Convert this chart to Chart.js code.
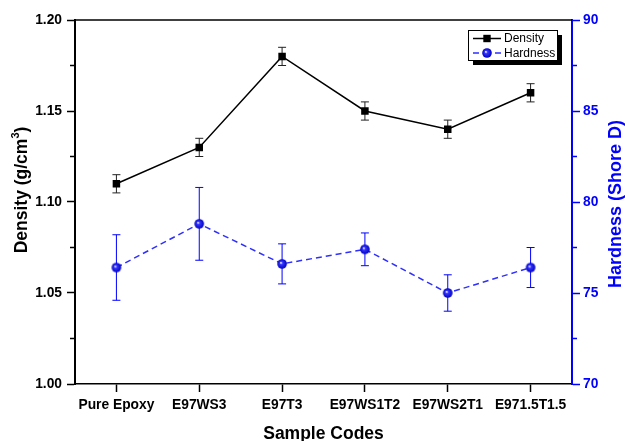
<!DOCTYPE html>
<html><head><meta charset="utf-8">
<script src="https://cdn.jsdelivr.net/npm/chart.js@4.4.1/dist/chart.umd.min.js"></script>
<style>html,body{margin:0;padding:0;background:#fff}#wrap{width:625px;height:441px}</style>
</head><body><div id="wrap"><canvas id="c" width="625" height="441"></canvas></div>
<script>
const categories = ['Pure Epoxy','E97WS3','E97T3','E97WS1T2','E97WS2T1','E971.5T1.5'];
const density = [1.11, 1.13, 1.18, 1.15, 1.14, 1.16];
const densityErr = [0.005, 0.005, 0.005, 0.005, 0.005, 0.005];
const hardness = [76.4, 78.8, 76.6, 77.4, 75.0, 76.4];
const hardnessErr = [1.8, 2.0, 1.1, 0.9, 1.0, 1.1];
const densityTicks = [1.00, 1.05, 1.10, 1.15, 1.20];
const densityMinor = [1.025, 1.075, 1.125, 1.175];
const hardnessTicks = [70, 75, 80, 85, 90];
const hardnessMinor = [72.5, 77.5, 82.5, 87.5];

const BLUE = '#0000ff';
const LINEBLUE = '#2f2fff';
const FONT = '"Liberation Sans", Arial, sans-serif';
const TICKSIZE = 13.8;

function ball(r) {
  const s = Math.ceil(r * 2) + 2;
  const c = document.createElement('canvas');
  c.width = s; c.height = s;
  const g = c.getContext('2d');
  const cx = s / 2, cy = s / 2;
  const gr = g.createRadialGradient(cx - r * 0.25, cy - r * 0.25, 0.3, cx, cy, r);
  gr.addColorStop(0, '#f4f4ff');
  gr.addColorStop(0.28, '#3434ff');
  gr.addColorStop(1, '#0000c0');
  g.fillStyle = gr;
  g.beginPath(); g.arc(cx, cy, r, 0, Math.PI * 2); g.fill();
  return c;
}
const ballImg = ball(4.8);

const errorBars = {
  id: 'errorBars',
  beforeDatasetsDraw(chart) {
    const ctx = chart.ctx;
    const xs = chart.scales.x;
    const sets = [
      {vals: density, errs: densityErr, scale: chart.scales.y, color: '#222', cap: 4},
      {vals: hardness, errs: hardnessErr, scale: chart.scales.y1, color: BLUE, cap: 4}
    ];
    ctx.save();
    sets.forEach(s => {
      ctx.strokeStyle = s.color;
      ctx.lineWidth = 1;
      s.vals.forEach((v, i) => {
        const x = xs.getPixelForValue(i);
        const yt = s.scale.getPixelForValue(v + s.errs[i]);
        const yb = s.scale.getPixelForValue(v - s.errs[i]);
        ctx.beginPath();
        ctx.moveTo(x, yt); ctx.lineTo(x, yb);
        ctx.moveTo(x - s.cap, yt); ctx.lineTo(x + s.cap, yt);
        ctx.moveTo(x - s.cap, yb); ctx.lineTo(x + s.cap, yb);
        ctx.stroke();
      });
    });
    ctx.restore();
  }
};

const decor = {
  id: 'decor',
  afterDraw(chart) {
    const ctx = chart.ctx;
    const a = chart.chartArea;
    const y = chart.scales.y, y1 = chart.scales.y1;
    ctx.save();
    // top frame line
    ctx.strokeStyle = '#000'; ctx.lineWidth = 1.5;
    ctx.beginPath(); ctx.moveTo(a.left, a.top); ctx.lineTo(a.right, a.top); ctx.stroke();
    // minor ticks
    ctx.lineWidth = 1.5;
    densityMinor.forEach(v => {
      const p = y.getPixelForValue(v);
      ctx.beginPath(); ctx.moveTo(a.left - 5, p); ctx.lineTo(a.left, p); ctx.stroke();
    });
    ctx.strokeStyle = BLUE;
    hardnessMinor.forEach(v => {
      const p = y1.getPixelForValue(v);
      ctx.beginPath(); ctx.moveTo(a.right, p); ctx.lineTo(a.right + 5, p); ctx.stroke();
    });

    // axis titles
    ctx.fillStyle = '#000';
    ctx.font = 'bold 17.5px ' + FONT;
    ctx.textBaseline = 'alphabetic';
    const main = 'Density (g/cm';
    const wMain = ctx.measureText(main).width;
    ctx.font = 'bold 11px ' + FONT;
    const wSup = ctx.measureText('3').width;
    ctx.font = 'bold 17.5px ' + FONT;
    const wClose = ctx.measureText(')').width;
    const total = wMain + wSup + wClose;
    ctx.save();
    ctx.translate(27, 190);
    ctx.rotate(-Math.PI / 2);
    ctx.textAlign = 'left';
    let sx = -total / 2;
    ctx.fillText(main, sx, 0);
    sx += wMain;
    ctx.font = 'bold 11px ' + FONT;
    ctx.fillText('3', sx, -8);
    sx += wSup;
    ctx.font = 'bold 17.5px ' + FONT;
    ctx.fillText(')', sx, 0);
    ctx.restore();
    // right title
    ctx.save();
    ctx.fillStyle = BLUE;
    ctx.font = 'bold 18px ' + FONT;
    ctx.translate(621, 204);
    ctx.rotate(-Math.PI / 2);
    ctx.textAlign = 'center';
    ctx.fillText('Hardness (Shore D)', 0, 0);
    ctx.restore();
    // bottom title
    ctx.fillStyle = '#000';
    ctx.font = 'bold 17.5px ' + FONT;
    ctx.textAlign = 'center';
    ctx.fillText('Sample Codes', (a.left + a.right) / 2, 439);

    // legend
    const bx = 468, by = 30, bw = 89, bh = 30;
    ctx.fillStyle = '#000';
    ctx.fillRect(bx + 5, by + 5, bw, bh);
    ctx.fillStyle = '#fff';
    ctx.fillRect(bx, by, bw, bh);
    ctx.strokeStyle = '#000'; ctx.lineWidth = 1;
    ctx.strokeRect(bx + 0.5, by + 0.5, bw, bh);
    const r1 = 38.5, r2 = 53;
    ctx.strokeStyle = '#000'; ctx.lineWidth = 1.5;
    ctx.beginPath(); ctx.moveTo(473, r1); ctx.lineTo(501, r1); ctx.stroke();
    ctx.fillStyle = '#000';
    ctx.fillRect(487 - 3.7, r1 - 3.7, 7.4, 7.4);
    ctx.strokeStyle = LINEBLUE; ctx.lineWidth = 1.5;
    ctx.beginPath(); ctx.moveTo(473, r2); ctx.lineTo(479, r2); ctx.moveTo(495, r2); ctx.lineTo(501, r2); ctx.stroke();
    ctx.drawImage(ballImg, 487 - ballImg.width / 2, r2 - ballImg.height / 2);
    ctx.fillStyle = '#000';
    ctx.font = '12px ' + FONT;
    ctx.textAlign = 'left';
    ctx.textBaseline = 'middle';
    ctx.fillText('Density', 504, r1);
    ctx.fillText('Hardness', 504, r2 + 0.5);
    ctx.restore();
  }
};

new Chart(document.getElementById('c'), {
  type: 'line',
  data: {
    labels: categories,
    datasets: [
      {
        label: 'Density', data: density, yAxisID: 'y',
        borderColor: '#000', backgroundColor: '#000', borderWidth: 1.5,
        pointStyle: 'rect', pointRadius: 5.3, pointHoverRadius: 5.3,
        pointBackgroundColor: '#000', pointBorderWidth: 0, tension: 0
      },
      {
        label: 'Hardness', data: hardness, yAxisID: 'y1',
        borderColor: LINEBLUE, backgroundColor: BLUE, borderWidth: 1.5,
        borderDash: [6, 4],
        pointStyle: ballImg, pointRadius: 5, tension: 0
      }
    ]
  },
  options: {
    responsive: false,
    animation: false,
    devicePixelRatio: 1,
    layout: {padding: {top: 20, left: 0, right: 0, bottom: 0}},
    plugins: {legend: {display: false}, tooltip: {enabled: false}},
    events: [],
    scales: {
      x: {
        type: 'category', offset: true,
        afterFit: s => { s.height = 57; },
        grid: {drawOnChartArea: false, offset: false, drawTicks: true, tickLength: 8, tickWidth: 1.5, tickColor: '#000'},
        border: {display: true, color: '#000', width: 1.5},
        ticks: {color: '#000', font: {family: FONT, size: TICKSIZE, weight: 'bold'}, padding: 5, maxRotation: 0, autoSkip: false}
      },
      y: {
        position: 'left', min: 1.0, max: 1.2,
        afterFit: s => { s.width = 75; },
        afterBuildTicks: s => { s.ticks = densityTicks.map(v => ({value: v})); },
        grid: {drawOnChartArea: false, drawTicks: true, tickLength: 8, tickWidth: 1.5, tickColor: '#000'},
        border: {display: true, color: '#000', width: 2},
        ticks: {color: '#000', font: {family: FONT, size: TICKSIZE, weight: 'bold'}, padding: 5, callback: v => Number(v).toFixed(2)}
      },
      y1: {
        position: 'right', min: 70, max: 90,
        afterFit: s => { s.width = 53; },
        afterBuildTicks: s => { s.ticks = hardnessTicks.map(v => ({value: v})); },
        grid: {drawOnChartArea: false, drawTicks: true, tickLength: 8, tickWidth: 1.5, tickColor: BLUE},
        border: {display: true, color: BLUE, width: 2},
        ticks: {color: BLUE, font: {family: FONT, size: TICKSIZE, weight: 'bold'}, padding: 3, callback: v => String(v)}
      }
    }
  },
  plugins: [errorBars, decor]
});
</script>
</body></html>
